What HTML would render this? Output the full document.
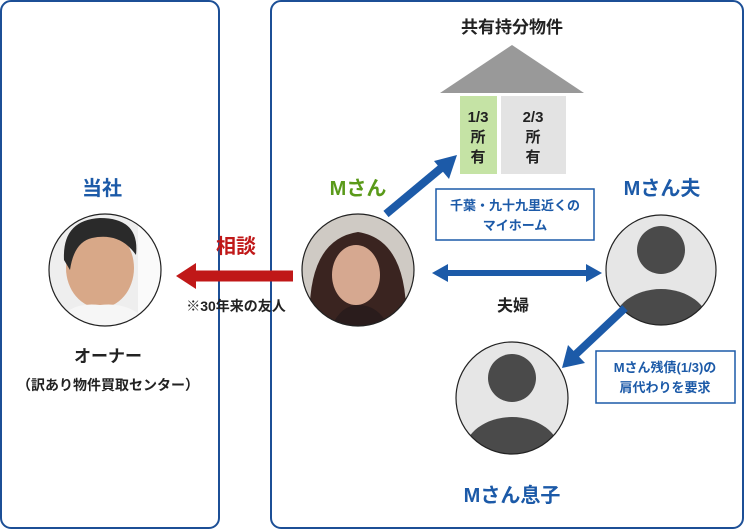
<!DOCTYPE html>
<html><head><meta charset="utf-8"><style>
html,body{margin:0;padding:0;background:#fff;overflow:hidden}
svg{display:block}
svg text{font-family:"Liberation Sans","Noto Sans CJK JP",sans-serif;font-weight:bold}
</style></head><body>
<svg width="745" height="530" viewBox="0 0 745 530" xmlns="http://www.w3.org/2000/svg">
<defs>
<clipPath id="c1"><circle cx="105" cy="270" r="56"/></clipPath>
<clipPath id="c2"><circle cx="358" cy="270" r="56"/></clipPath>
<clipPath id="c3"><circle cx="661" cy="270" r="55"/></clipPath>
<clipPath id="c4"><circle cx="512" cy="398" r="56"/></clipPath>
</defs>
<rect x="1" y="1" width="218" height="527" rx="10" fill="#fff" stroke="#1c4f96" stroke-width="2"/>
<rect x="271" y="1" width="472" height="527" rx="10" fill="#fff" stroke="#1c4f96" stroke-width="2"/>

<text x="512" y="33" font-size="17" text-anchor="middle" fill="#222">共有持分物件</text>
<polygon points="512,45 440,93 584,93" fill="#999"/>
<rect x="460" y="96" width="37" height="78" fill="#c5e3a5"/>
<rect x="501" y="96" width="65" height="78" fill="#e3e3e3"/>
<text x="478" y="122" font-size="15" text-anchor="middle" fill="#222">1/3</text>
<text x="478" y="142" font-size="15" text-anchor="middle" fill="#222">所</text>
<text x="478" y="162" font-size="15" text-anchor="middle" fill="#222">有</text>
<text x="533" y="122" font-size="15" text-anchor="middle" fill="#222">2/3</text>
<text x="533" y="142" font-size="15" text-anchor="middle" fill="#222">所</text>
<text x="533" y="162" font-size="15" text-anchor="middle" fill="#222">有</text>
<rect x="436" y="189" width="158" height="51" fill="#fff" stroke="#1c5aa8" stroke-width="1.5"/>
<text x="515" y="210" font-size="13" text-anchor="middle" fill="#1c5aa8">千葉・九十九里近くの</text>
<text x="515" y="230" font-size="13" text-anchor="middle" fill="#1c5aa8">マイホーム</text>

<text x="102" y="195" font-size="20" text-anchor="middle" fill="#1c5aa8">当社</text>
<text x="358" y="195" font-size="20" text-anchor="middle" fill="#5a9a1a">Mさん</text>
<text x="662" y="195" font-size="20" text-anchor="middle" fill="#1c5aa8">Mさん夫</text>
<text x="512" y="502" font-size="20" text-anchor="middle" fill="#1c5aa8">Mさん息子</text>
<text x="108" y="362" font-size="17" text-anchor="middle" fill="#222">オーナー</text>
<text x="108" y="390" font-size="14" text-anchor="middle" fill="#222">（訳あり物件買取センター）</text>
<text x="236" y="253" font-size="20" text-anchor="middle" fill="#c01818">相談</text>
<text x="236" y="311" font-size="14" text-anchor="middle" fill="#222">※30年来の友人</text>
<text x="513" y="311" font-size="16" text-anchor="middle" fill="#222">夫婦</text>

<g clip-path="url(#c1)">
<rect x="40" y="200" width="140" height="140" fill="#eeeeee"/>
<rect x="138" y="210" width="30" height="130" fill="#fafafa"/>
<ellipse cx="100" cy="268" rx="34" ry="40" fill="#d8a888"/>
<path d="M64 260 Q62 220 100 218 Q140 218 136 255 Q120 232 92 238 Q74 242 70 270Z" fill="#2a2a2a"/>
<path d="M50 340 Q60 300 100 305 Q140 300 160 340Z" fill="#f6f6f6"/>
</g>
<circle cx="105" cy="270" r="56" fill="none" stroke="#222" stroke-width="1.2"/>
<g clip-path="url(#c2)">
<rect x="300" y="212" width="120" height="120" fill="#cfcac4"/>
<path d="M310 330 Q305 240 358 232 Q410 240 406 330Z" fill="#3a2420"/>
<ellipse cx="356" cy="275" rx="24" ry="30" fill="#d6a890"/>
<path d="M330 330 Q340 305 358 305 Q380 305 390 330Z" fill="#2a1c1c"/>
</g>
<circle cx="358" cy="270" r="56" fill="none" stroke="#222" stroke-width="1.2"/>
<g clip-path="url(#c3)">
<rect x="600" y="210" width="125" height="125" fill="#e6e6e6"/>
<circle cx="661" cy="250" r="24" fill="#4a4a4a"/>
<ellipse cx="661" cy="325" rx="48" ry="36" fill="#4a4a4a"/>
</g>
<circle cx="661" cy="270" r="55" fill="none" stroke="#222" stroke-width="1.2"/>
<g clip-path="url(#c4)">
<rect x="450" y="340" width="125" height="125" fill="#e6e6e6"/>
<circle cx="512" cy="378" r="24" fill="#4a4a4a"/>
<ellipse cx="512" cy="453" rx="48" ry="36" fill="#4a4a4a"/>
</g>
<circle cx="512" cy="398" r="56" fill="none" stroke="#222" stroke-width="1.2"/>

<line x1="293" y1="276" x2="192" y2="276" stroke="#c01818" stroke-width="11"/>
<polygon points="176,276 196,263 196,289" fill="#c01818"/>
<line x1="386" y1="214" x2="446" y2="164" stroke="#1c5aa8" stroke-width="8"/>
<polygon points="457,155 434,161 449,179" fill="#1c5aa8"/>
<line x1="446" y1="273" x2="588" y2="273" stroke="#1c5aa8" stroke-width="6"/>
<polygon points="432,273 448,264 448,282" fill="#1c5aa8"/>
<polygon points="602,273 586,264 586,282" fill="#1c5aa8"/>
<line x1="625" y1="308" x2="574" y2="356" stroke="#1c5aa8" stroke-width="8"/>
<polygon points="562,368 568,345 585,363" fill="#1c5aa8"/>

<rect x="596" y="351" width="139" height="52" fill="#fff" stroke="#1c5aa8" stroke-width="1.5"/>
<text x="665" y="372" font-size="13" text-anchor="middle" fill="#1c5aa8">Mさん残債(1/3)の</text>
<text x="665" y="392" font-size="13" text-anchor="middle" fill="#1c5aa8">肩代わりを要求</text>
</svg>
</body></html>
